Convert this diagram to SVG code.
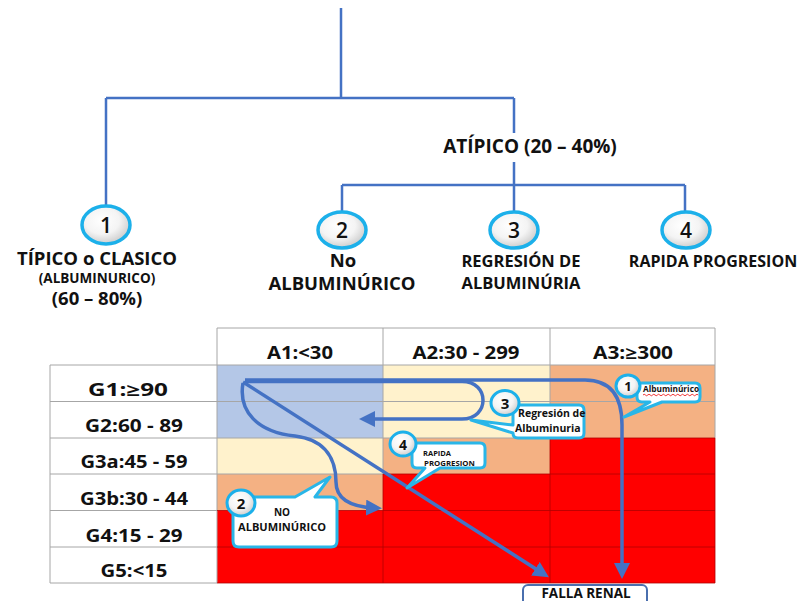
<svg xmlns="http://www.w3.org/2000/svg" width="807" height="601" viewBox="0 0 807 601">
<defs>
<radialGradient id="ball" cx="0.42" cy="0.38" r="0.65">
<stop offset="0" stop-color="#ffffff"/>
<stop offset="0.55" stop-color="#f4f4f4"/>
<stop offset="1" stop-color="#c9c9c9"/>
</radialGradient>
<marker id="ah" markerUnits="userSpaceOnUse" markerWidth="18" markerHeight="16" refX="9" refY="8" orient="auto">
<path d="M0,0 L16,8 L0,16 z" fill="#4472c4"/>
</marker>
<style>
.t{font-family:"Open Sans","Liberation Sans",sans-serif;font-weight:bold;fill:#111;}
.tree{fill:none;stroke:#4472c4;stroke-width:2.5;}
.big{fill:url(#ball);stroke:#1cb0ea;stroke-width:3.5;}
.sm{fill:url(#ball);stroke:#1cb0ea;stroke-width:3;}
.num{font-family:"Open Sans","Liberation Sans",sans-serif;fill:#111;text-anchor:middle;}
.call{fill:#fff;stroke:#29b6e8;stroke-width:3;stroke-linejoin:round;}
.arr{fill:none;stroke:#4472c4;stroke-width:3.5;}
.blue{fill:#b4c7e7;}
.cream{fill:#fff2cc;}
.salmon{fill:#f4b183;}
.red{fill:#ff0000;}
.grid{stroke:#a6a6a6;stroke-width:1;fill:none;}
.gridr{stroke:#b00000;stroke-width:0.8;fill:none;}
</style>
</defs>
<rect width="807" height="601" fill="#fff"/>

<g id="connectors">
<path class="tree" d="M341,8 V98 M106,98 H514 M106,98 V206 M514,98 V133 M514,162 V212 M342,185 H685 M342,185 V212 M685,185 V212"/>
</g>

<g id="atipico">
<text class="t" x="530" y="153" font-size="19" text-anchor="middle">ATÍPICO (20 – 40%)</text>
</g>

<g id="node1">
<ellipse class="big" cx="106" cy="225" rx="24" ry="19"/>
<text class="num" x="106" y="233" font-size="21" font-weight="600">1</text>
<text class="t" x="97" y="265" font-size="18.5" text-anchor="middle">TÍPICO o CLASICO</text>
<text class="t" x="97" y="283" font-size="13.5" text-anchor="middle">(ALBUMINURICO)</text>
<text class="t" x="97" y="305" font-size="18.5" text-anchor="middle">(60 – 80%)</text>
</g>

<g id="node2">
<ellipse class="big" cx="342" cy="230" rx="24" ry="18"/>
<text class="num" x="342" y="238" font-size="21" font-weight="600">2</text>
<text class="t" x="343" y="267" font-size="18.5" text-anchor="middle">No</text>
<text class="t" x="342" y="290" font-size="18.5" text-anchor="middle">ALBUMINÚRICO</text>
</g>

<g id="node3">
<ellipse class="big" cx="514" cy="230" rx="24" ry="18"/>
<text class="num" x="514" y="238" font-size="21" font-weight="600">3</text>
<text class="t" x="521" y="267" font-size="16.5" text-anchor="middle">REGRESIÓN DE</text>
<text class="t" x="521" y="289" font-size="16.5" text-anchor="middle">ALBUMINÚRIA</text>
</g>

<g id="node4">
<ellipse class="big" cx="686" cy="230" rx="24" ry="18"/>
<text class="num" x="686" y="238" font-size="21" font-weight="600">4</text>
<text class="t" x="713" y="267" font-size="16" text-anchor="middle">RAPIDA PROGRESION</text>
</g>

<g id="table">
<rect class="blue" x="217" y="365" width="166" height="73"/>
<rect class="cream" x="217" y="438" width="166" height="36"/>
<rect class="salmon" x="217" y="474" width="166" height="36.5"/>
<rect class="red" x="217" y="510.5" width="166" height="72.5"/>
<rect class="cream" x="383" y="365" width="167" height="73"/>
<rect class="salmon" x="383" y="438" width="167" height="36"/>
<rect class="red" x="383" y="474" width="167" height="109"/>
<rect class="salmon" x="550" y="365" width="165" height="73"/>
<rect class="red" x="550" y="438" width="165" height="145"/>
<path class="grid" d="M217,328 H715 M217,328 V365 M383,328 V365 M550,328 V365 M715,328 V438 M50,365 H715 M50,401.5 H715 M50,438 H550 M50,474 H383 M50,510.5 H217 M50,547 H217 M50,583 H217 M50,365 V583 M217,365 V583 M383,365 V474 M550,365 V438"/>
<path class="gridr" d="M550,438 H715 M383,474 H715 M217,510.5 H715 M217,547 H715 M217,583 H715 M383,474 V583 M550,438 V583 M715,438 V583"/>
<text class="t" x="300" y="359" font-size="17" text-anchor="middle" textLength="66" lengthAdjust="spacingAndGlyphs">A1:&lt;30</text>
<text class="t" x="466" y="359" font-size="17" text-anchor="middle" textLength="107" lengthAdjust="spacingAndGlyphs">A2:30 - 299</text>
<text class="t" x="633" y="359" font-size="17" text-anchor="middle" textLength="80" lengthAdjust="spacingAndGlyphs">A3:≥300</text>
<text class="t" x="128" y="396" font-size="17" text-anchor="middle" textLength="80" lengthAdjust="spacingAndGlyphs">G1:≥90</text>
<text class="t" x="134" y="432" font-size="17" text-anchor="middle" textLength="98" lengthAdjust="spacingAndGlyphs">G2:60 - 89</text>
<text class="t" x="134" y="468" font-size="17" text-anchor="middle" textLength="107" lengthAdjust="spacingAndGlyphs">G3a:45 - 59</text>
<text class="t" x="134" y="505" font-size="17" text-anchor="middle" textLength="108" lengthAdjust="spacingAndGlyphs">G3b:30 - 44</text>
<text class="t" x="134" y="542" font-size="17" text-anchor="middle" textLength="97" lengthAdjust="spacingAndGlyphs">G4:15 - 29</text>
<text class="t" x="134" y="577" font-size="17" text-anchor="middle" textLength="67" lengthAdjust="spacingAndGlyphs">G5:&lt;15</text>
</g>

<g id="paths">
<path class="arr" d="M245,380 H585 Q622,380 622,425 V572" marker-end="url(#ah)"/>
<path class="arr" d="M245,381.5 H462 C490,381.5 490,419 462,419 H366" marker-end="url(#ah)"/>
<path class="arr" d="M243,382 L543,573.5" marker-end="url(#ah)"/>
<path class="arr" d="M243,383 C238,412 258,432 295,436 C328,440 336,462 336,482 C336,500 352,507 375,508" marker-end="url(#ah)"/>
</g>

<g id="callout1">
<path class="call" d="M642,383 H695 Q700,383 700,388 V397 Q700,402 695,402 H662 L624,417 L650,402 H642 Q637,402 637,397 V388 Q637,383 642,383 Z"/>
<ellipse class="sm" cx="628" cy="386" rx="12" ry="11"/>
<text class="num" x="628" y="391" font-size="13" font-weight="bold">1</text>
<text class="t" x="643" y="392" font-size="8.5" textLength="56" lengthAdjust="spacingAndGlyphs">Albuminúrico</text>
<path d="M643,395 q1.2,-1.5 2.4,0 t2.4,0 t2.4,0 t2.4,0 t2.4,0 t2.4,0 t2.4,0 t2.4,0 t2.4,0 t2.4,0 t2.4,0 t2.4,0 t2.4,0 t2.4,0 t2.4,0 t2.4,0 t2.4,0 t2.4,0 t2.4,0 t2.4,0 t2.4,0 t2.4,0 t2.4,0" fill="none" stroke="#e00" stroke-width="0.8"/>
</g>

<g id="callout3">
<path class="call" d="M518,405 H579 Q584,405 584,410 V433 Q584,438 579,438 H518 Q513,438 513,433 V433 L471,420 L513,425 V410 Q513,405 518,405 Z"/>
<ellipse class="sm" cx="505" cy="403" rx="14" ry="12.5"/>
<text class="num" x="505" y="409" font-size="15" font-weight="bold">3</text>
<text class="t" x="518" y="417" font-size="10.5">Regresión de</text>
<text class="t" x="515" y="432" font-size="10.5">Albuminuria</text>
</g>

<g id="callout4">
<path class="call" d="M417,443 H480 Q485,443 485,448 V463 Q485,468 480,468 H440 L407,488 L425,468 H417 Q412,468 412,463 V448 Q412,443 417,443 Z"/>
<ellipse class="sm" cx="403" cy="444" rx="13" ry="12"/>
<text class="num" x="403" y="449.5" font-size="14" font-weight="bold">4</text>
<text class="t" x="423" y="456" font-size="7.5">RAPIDA</text>
<text class="t" x="424" y="466" font-size="7.8">PROGRESION</text>
</g>

<g id="callout2">
<path class="call" d="M239,497 H295 L330,477 L315,497 H331 Q337,497 337,503 V541 Q337,547 331,547 H239 Q233,547 233,541 V503 Q233,497 239,497 Z"/>
<ellipse class="sm" cx="241" cy="503" rx="14" ry="13"/>
<text class="num" x="241" y="509" font-size="15" font-weight="bold">2</text>
<text class="t" x="282" y="516" font-size="10" text-anchor="middle">NO</text>
<text class="t" x="282" y="531" font-size="10.5" text-anchor="middle" textLength="88" lengthAdjust="spacingAndGlyphs">ALBUMINÚRICO</text>
</g>

<g id="falla">
<rect x="523" y="585" width="124" height="30" rx="5" fill="#fff" stroke="#4a6fae" stroke-width="2"/>
<text class="t" x="586" y="598" font-size="13.5" text-anchor="middle">FALLA RENAL</text>
</g>
</svg>
